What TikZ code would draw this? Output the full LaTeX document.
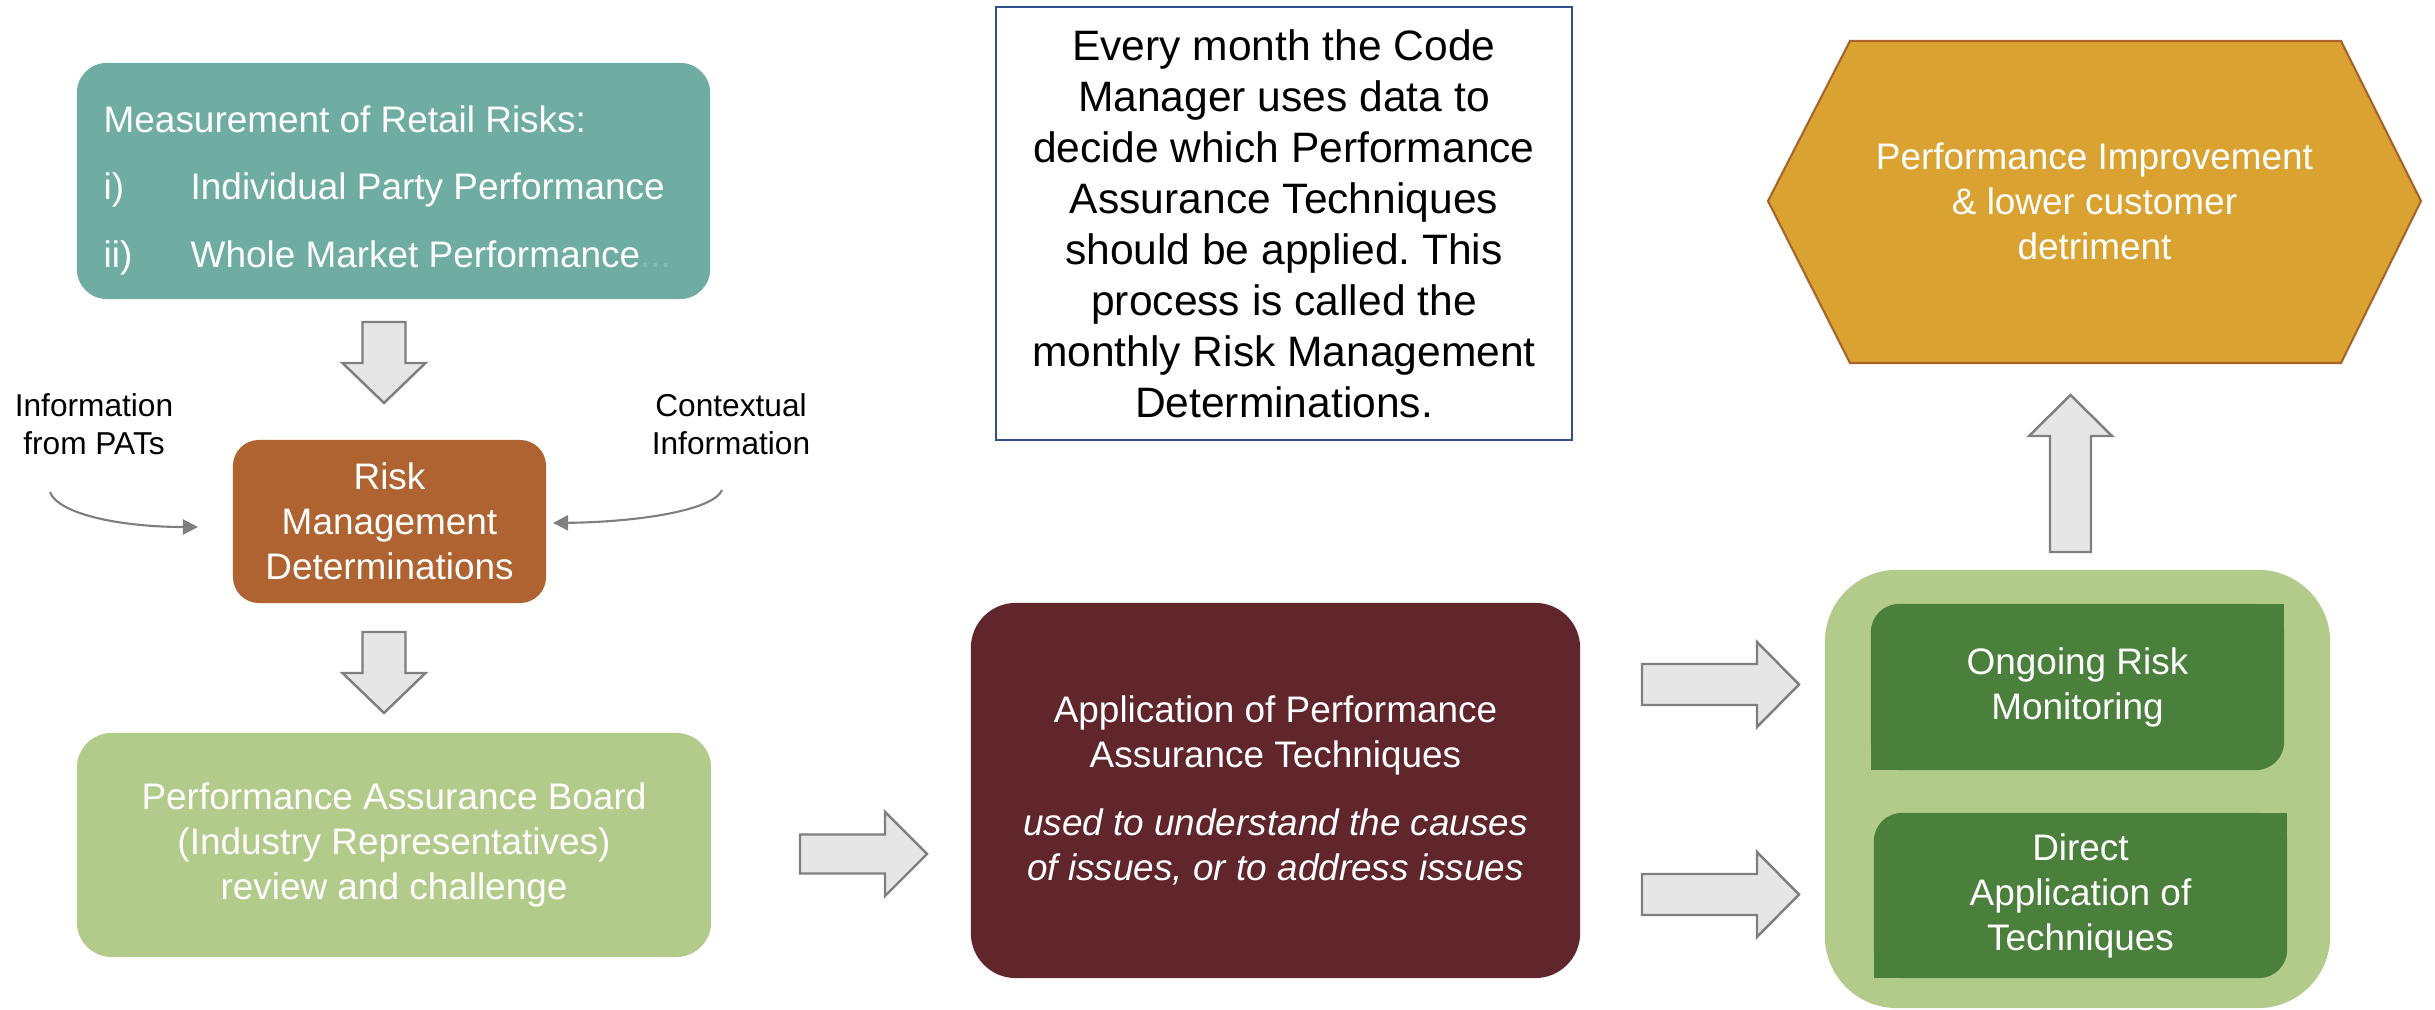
\documentclass[tikz,border=0pt]{standalone}
\usepackage{fontspec}
\setmainfont{Liberation Sans}
\usetikzlibrary{arrows.meta}
\frenchspacing

\definecolor{cTeal}{HTML}{6FADA2}
\definecolor{cTealDots}{HTML}{86BDB3}
\definecolor{cRust}{HTML}{AE6330}
\definecolor{cSage}{HTML}{B2CB8A}
\definecolor{cWine}{HTML}{61252C}
\definecolor{cLeaf}{HTML}{4A803C}
\definecolor{cGold}{HTML}{DAA331}
\definecolor{cGoldEdge}{HTML}{A8642A}
\definecolor{cNavy}{HTML}{2F528F}
\definecolor{cArrowFill}{HTML}{E6E6E6}
\definecolor{cArrowLine}{HTML}{7F7F7F}

% block arrows: #1 tail centre, #2 shaft half-width, #3 shaft length,
% #4 head half-width, #5 head length
\newcommand\blockright[5]{\draw[blockarrow] (#1) ++(0,-#2) -- ++(#3,0) -- ++(0,{#2-#4})
  -- ++(#5,#4) -- ++(-#5,#4) -- ++(0,{#2-#4}) -- ++(-#3,0) -- cycle;}
\newcommand\blockdown[5]{\draw[blockarrow] (#1) ++(-#2,0) -- ++(0,#3) -- ++({#2-#4},0)
  -- ++(#4,#5) -- ++(#4,-#5) -- ++({#2-#4},0) -- ++(0,-#3) -- cycle;}
\newcommand\blockup[5]{\draw[blockarrow] (#1) ++(-#2,0) -- ++(0,-#3) -- ++({#2-#4},0)
  -- ++(#4,-#5) -- ++(#4,#5) -- ++({#2-#4},0) -- ++(0,#3) -- cycle;}

\begin{document}
\begin{tikzpicture}[x=0.01cm, y=-0.01cm,
  box/.style={inner sep=0pt, outer sep=0pt, text=white, align=center,
    font=\fontsize{10.5pt}{12.8pt}\selectfont},
  blockarrow/.style={fill=cArrowFill, draw=cArrowLine, line width=0.7pt, line join=miter},
  curvearrow/.style={draw=cArrowLine, line width=0.6pt,
    -{Triangle[length=4.3pt,width=4.3pt]}},
  sidelabel/.style={align=center, inner sep=0pt,
    font=\fontsize{9pt}{10.8pt}\selectfont}]
\useasboundingbox (0,0) rectangle (2435,1010);

% --- left column -------------------------------------------------------
\node[box, fill=cTeal, rounded corners=0.3cm, minimum width=6.33cm,
  minimum height=2.36cm] (meas) at (393.5,181) {};
\node[anchor=west, inner sep=0pt, text=white, align=left,
  font=\fontsize{10.5pt}{19.2pt}\selectfont] (measText) at (103,190)
  {Measurement of Retail Risks:\\
   \makebox[24.75pt][l]{i)}Individual Party Performance\\
   \makebox[24.75pt][l]{ii)}Whole Market Performance\textcolor{cTealDots}{...}};

\node[box, fill=cRust, rounded corners=0.26cm, minimum width=3.13cm,
  minimum height=1.63cm] (risk) at (389.5,521.5)
  {Risk\\Management\\Determinations};

\node[box, fill=cSage, rounded corners=0.35cm, minimum width=6.34cm,
  minimum height=2.24cm] (pab) at (394,845)
  {Performance Assurance Board\\(Industry Representatives)\\review and challenge};

\node[sidelabel] (infoL) at (94,424.5) {Information\\from PATs};
\node[sidelabel] (infoR) at (731,424.5) {Contextual\\Information};

\coordinate (cL) at (50,492);
\coordinate (tipL) at (198,527);
\coordinate (cR) at (722,490);
\coordinate (tipR) at (553,523);
\draw[curvearrow] (cL) .. controls (58,514) and (120,527) .. (tipL);
\draw[curvearrow] (cR) .. controls (714,510) and (640,522) .. (tipR);

\coordinate (a1) at (384,322);
\coordinate (a2) at (384,632);
\blockdown{a1}{21.5}{41}{41.5}{40}
\blockdown{a2}{21.5}{41}{41.5}{40}

% --- centre ------------------------------------------------------------
\node[draw=cNavy, line width=0.6pt, minimum width=5.76cm, minimum height=4.33cm,
  align=center, inner sep=0pt, font=\fontsize{12.1pt}{14.5pt}\selectfont]
  (note) at (1284,223.5)
  {Every month the Code\\Manager uses data to\\decide which Performance\\
   Assurance Techniques\\should be applied. This\\process is called the\\
   monthly Risk Management\\Determinations.};

\node[box, fill=cWine, rounded corners=0.45cm, minimum width=6.09cm,
  minimum height=3.75cm] (pat) at (1275.5,790.5)
  {Application of Performance\\Assurance Techniques\\[6.3pt]
   \textit{used to understand the causes}\\\textit{of issues, or to address issues}};

\coordinate (r1) at (800,854);
\blockright{r1}{19.5}{85}{42}{42}

% --- right column ------------------------------------------------------
\node[fill=cSage, rounded corners=0.72cm, minimum width=5.05cm,
  minimum height=4.38cm, inner sep=0pt, outer sep=0pt] (tech) at (2077.5,789) {};

% inner boxes: rounded top-left and bottom-right corners only
\node[box, fill=cLeaf, rounded corners=0.28cm, minimum width=4.13cm,
  minimum height=1.66cm] (mon) at (2077.5,687) {Ongoing Risk\\Monitoring};
\fill[cLeaf] (mon.north east) rectangle ++(-40,40);
\fill[cLeaf] (mon.south west) rectangle ++(40,-40);

\node[box, fill=cLeaf, rounded corners=0.28cm, minimum width=4.13cm,
  minimum height=1.65cm] (dir) at (2080.5,895.5) {Direct\\Application of\\Techniques};
\fill[cLeaf] (dir.north east) rectangle ++(-40,40);
\fill[cLeaf] (dir.south west) rectangle ++(40,-40);

\coordinate (r2) at (1642,684.5);
\coordinate (r3) at (1642,894.5);
\blockright{r2}{20.5}{115}{42.5}{42}
\blockright{r3}{20.5}{115}{42.5}{42}

\draw[fill=cGold, draw=cGoldEdge, line width=0.6pt]
  (1850,41) -- (2341,41) -- (2421,201) -- (2341,363) -- (1850,363) -- (1768,201) -- cycle;
\node[box] (goal) at (2094.5,201)
  {Performance Improvement\\\& lower customer\\detriment};

\coordinate (u1) at (2070.5,552);
\blockup{u1}{20.5}{116}{41.5}{41}
\end{tikzpicture}
\end{document}
